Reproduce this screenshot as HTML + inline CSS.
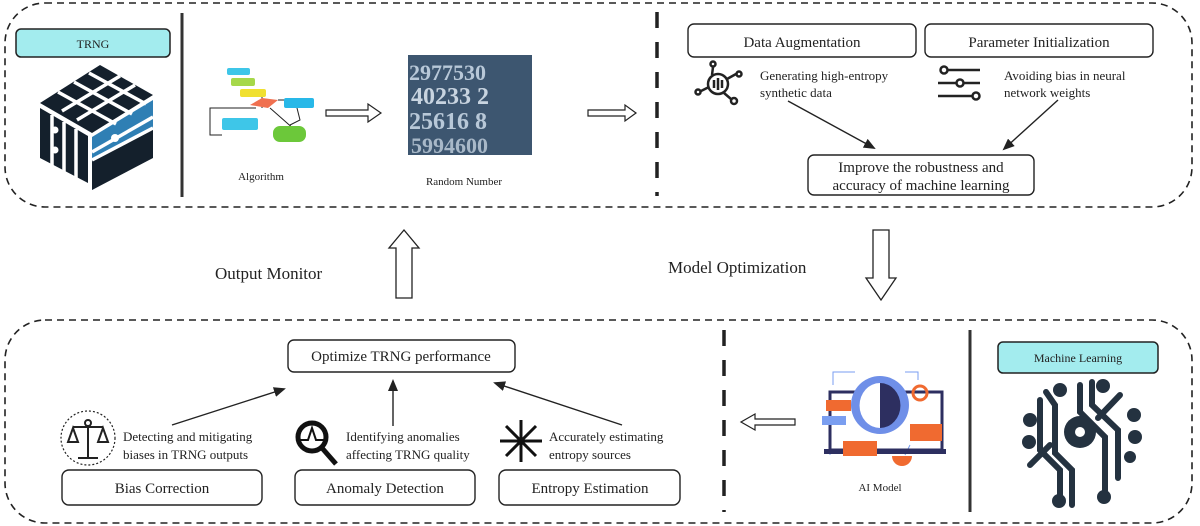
<!DOCTYPE html>
<html><head><meta charset="utf-8"><style>
html,body{margin:0;padding:0;background:#fff}
svg{display:block}
text{font-family:"Liberation Serif",serif;fill:#222}
</style></head><body>
<svg width="1200" height="526" viewBox="0 0 1200 526" xmlns="http://www.w3.org/2000/svg">
<defs>
<marker id="ah" markerWidth="12" markerHeight="10" refX="10" refY="5" orient="auto" markerUnits="userSpaceOnUse">
<path d="M0,0 L12,5 L0,10 Z" fill="#222"/></marker>
</defs>
<rect x="5" y="3" width="1187" height="204" rx="40" fill="none" stroke="#222" stroke-width="1.6" stroke-dasharray="7,5"/>
<rect x="5" y="320" width="1187" height="203" rx="40" fill="none" stroke="#222" stroke-width="1.6" stroke-dasharray="7,5"/>

<!-- TOP LEFT -->
<rect x="16" y="29" width="154" height="28" rx="5" fill="#a3ecee" stroke="#222" stroke-width="1.5"/>
<text x="93" y="48" font-size="12" text-anchor="middle">TRNG</text>
<g fill="#14202c">
<path d="M40,103 L100,65 L153,95 L92,133 Z"/>
<path d="M40,108 L88,136 L88,183 L40,158 Z"/>
<path d="M92,137 L153,100 L153,155 L92,190 Z" fill="#2f7fb4"/>
<path d="M92,160 L153,128 L153,158 L92,190 Z"/>
</g>
<g stroke="#fff" stroke-width="3.5">
<line x1="58" y1="92" x2="116" y2="124"/><line x1="74" y1="82" x2="132" y2="114"/><line x1="89" y1="73" x2="146" y2="104"/>
<line x1="62" y1="111" x2="120" y2="76"/><line x1="77" y1="120" x2="135" y2="85"/>
<line x1="52" y1="115" x2="52" y2="166"/><line x1="64" y1="122" x2="64" y2="172"/><line x1="76" y1="129" x2="76" y2="178"/>
<line x1="92" y1="152" x2="153" y2="117"/><line x1="92" y1="160" x2="153" y2="128"/>
</g>
<circle cx="115" cy="138" r="4" fill="#fff"/><circle cx="55" cy="130" r="3.5" fill="#fff"/><circle cx="55" cy="150" r="3.5" fill="#fff"/>
<line x1="182" y1="13" x2="182" y2="197" stroke="#333" stroke-width="3"/>
<!-- algorithm icon -->
<g>
<path d="M256,108 L210,108 L210,135 L222,135 M262,93 L262,108 M270,108 L295,130 M278,100 L295,100 L300,120 L290,125" fill="none" stroke="#222" stroke-width="1"/>
<rect x="227" y="68" width="23" height="7" rx="2" fill="#3ec6e8"/><rect x="231" y="78" width="24" height="8" rx="2" fill="#a6d84a"/>
<rect x="240" y="89" width="26" height="8" rx="2" fill="#f0e030"/>
<path d="M250,105 L262,98 L278,100 L268,108 Z" fill="#f07050"/>
<rect x="284" y="98" width="30" height="10" rx="2" fill="#28b8e8"/>
<rect x="222" y="118" width="36" height="12" rx="2" fill="#3ec6e8"/>
<rect x="273" y="126" width="33" height="16" rx="7" fill="#6cc83a"/>
</g>
<text x="261" y="180" font-size="11" text-anchor="middle">Algorithm</text>
<path d="M326,110 L368,110 L368,104 L381,113 L368,122 L368,116 L326,116 Z" fill="#fff" stroke="#222" stroke-width="1.2"/>
<!-- random number image -->
<rect x="408" y="55" width="124" height="100" fill="#3d5670"/>
<g font-family="Liberation Sans,sans-serif" font-weight="bold">
<text x="409" y="80" font-size="22" style="fill:#b8c8d8">2977530</text>
<text x="411" y="104" font-size="24" style="fill:#c8d4e0">40233 2</text>
<text x="409" y="129" font-size="24" style="fill:#b8c8d8">25616 8</text>
<text x="411" y="153" font-size="22" style="fill:#a8b8c8">5994600</text>
</g>
<text x="464" y="185" font-size="11" text-anchor="middle">Random Number</text>
<path d="M588,110 L625,110 L625,105 L636,113 L625,121 L625,116 L588,116 Z" fill="#fff" stroke="#222" stroke-width="1.2"/>
<line x1="657" y1="12" x2="657" y2="196" stroke="#222" stroke-width="3.5" stroke-dasharray="16,14"/>

<!-- TOP RIGHT -->
<rect x="688" y="24" width="228" height="33" rx="6" fill="#fff" stroke="#222" stroke-width="1.4"/>
<text x="802" y="47" font-size="15" text-anchor="middle">Data Augmentation</text>
<rect x="925" y="24" width="228" height="33" rx="6" fill="#fff" stroke="#222" stroke-width="1.4"/>
<text x="1039" y="47" font-size="15" text-anchor="middle">Parameter Initialization</text>
<g fill="none" stroke="#222" stroke-width="2.5">
<circle cx="718" cy="84" r="10"/><line x1="714" y1="80" x2="714" y2="88"/><line x1="718" y1="78" x2="718" y2="90"/><line x1="722" y1="80" x2="722" y2="88"/>
<line x1="712" y1="75" x2="713" y2="67"/><circle cx="713" cy="64" r="2.5"/>
<line x1="709" y1="87" x2="701" y2="91"/><circle cx="698" cy="92" r="2.5"/>
<line x1="727" y1="79" x2="736" y2="74"/><circle cx="739" cy="74" r="2.5"/>
<line x1="724" y1="93" x2="731" y2="99"/><circle cx="734" cy="101" r="3"/>
</g>
<text x="760" y="80" font-size="13">Generating high-entropy</text>
<text x="760" y="97" font-size="13">synthetic data</text>
<g fill="none" stroke="#222" stroke-width="2.5">
<line x1="940" y1="70" x2="980" y2="70"/><circle cx="944" cy="70" r="3.5" fill="#fff"/>
<line x1="938" y1="83" x2="980" y2="83"/><circle cx="960" cy="83" r="3.5" fill="#fff"/>
<line x1="938" y1="96" x2="980" y2="96"/><circle cx="976" cy="96" r="3.5" fill="#fff"/>
</g>
<text x="1004" y="80" font-size="13">Avoiding bias in neural</text>
<text x="1004" y="97" font-size="13">network weights</text>
<line x1="788" y1="101" x2="874" y2="148" stroke="#222" stroke-width="1.4" marker-end="url(#ah)"/>
<line x1="1058" y1="100" x2="1004" y2="149" stroke="#222" stroke-width="1.4" marker-end="url(#ah)"/>
<rect x="808" y="155" width="226" height="40" rx="6" fill="#fff" stroke="#222" stroke-width="1.4"/>
<text x="921" y="172" font-size="15" text-anchor="middle">Improve the robustness and</text>
<text x="921" y="190" font-size="15" text-anchor="middle">accuracy of machine learning</text>

<!-- MIDDLE -->
<path d="M396,298 L396,248 L389,248 L404,230 L419,248 L412,248 L412,298 Z" fill="#fff" stroke="#222" stroke-width="1.3"/>
<text x="215" y="279" font-size="17">Output Monitor</text>
<text x="668" y="273" font-size="17">Model Optimization</text>
<path d="M873,230 L873,278 L866,278 L881,300 L896,278 L889,278 L889,230 Z" fill="#fff" stroke="#222" stroke-width="1.3"/>

<!-- BOTTOM LEFT -->
<rect x="288" y="340" width="227" height="32" rx="6" fill="#fff" stroke="#222" stroke-width="1.4"/>
<text x="401" y="361" font-size="15" text-anchor="middle">Optimize TRNG performance</text>
<line x1="172" y1="425" x2="284" y2="389" stroke="#222" stroke-width="1.4" marker-end="url(#ah)"/>
<line x1="393" y1="426" x2="393" y2="381" stroke="#222" stroke-width="1.4" marker-end="url(#ah)"/>
<line x1="622" y1="425" x2="495" y2="383" stroke="#222" stroke-width="1.4" marker-end="url(#ah)"/>
<circle cx="88" cy="438" r="27" fill="none" stroke="#222" stroke-width="1.2" stroke-dasharray="2,2"/>
<g fill="none" stroke="#222" stroke-width="2">
<line x1="88" y1="425" x2="88" y2="458"/><line x1="78" y1="458" x2="98" y2="458"/>
<line x1="73" y1="427" x2="103" y2="427"/><circle cx="88" cy="423" r="3" fill="#fff"/>
<path d="M73,428 L68,442 L78,442 Z"/><path d="M103,428 L98,442 L108,442 Z"/>
</g>
<text x="123" y="441" font-size="13">Detecting and mitigating</text>
<text x="123" y="459" font-size="13">biases in TRNG outputs</text>
<g fill="none" stroke="#111" stroke-width="5">
<circle cx="312" cy="437" r="14"/><line x1="322" y1="448" x2="336" y2="464"/>
</g>
<path d="M300,440 L308,440 L312,428 L316,440 L324,440" fill="none" stroke="#111" stroke-width="2"/>
<text x="346" y="441" font-size="13">Identifying anomalies</text>
<text x="346" y="459" font-size="13">affecting TRNG quality</text>
<g stroke="#111" stroke-width="3">
<line x1="521" y1="420" x2="521" y2="462"/><line x1="500" y1="441" x2="542" y2="441"/>
<line x1="506" y1="426" x2="536" y2="456"/><line x1="536" y1="426" x2="506" y2="456"/>
</g>
<text x="549" y="441" font-size="13">Accurately estimating</text>
<text x="549" y="459" font-size="13">entropy sources</text>
<rect x="62" y="470" width="200" height="35" rx="7" fill="#fff" stroke="#222" stroke-width="1.4"/>
<text x="162" y="493" font-size="15" text-anchor="middle">Bias Correction</text>
<rect x="295" y="470" width="180" height="35" rx="7" fill="#fff" stroke="#222" stroke-width="1.4"/>
<text x="385" y="493" font-size="15" text-anchor="middle">Anomaly Detection</text>
<rect x="499" y="470" width="181" height="35" rx="7" fill="#fff" stroke="#222" stroke-width="1.4"/>
<text x="590" y="493" font-size="15" text-anchor="middle">Entropy Estimation</text>

<!-- BOTTOM RIGHT -->
<line x1="724" y1="330" x2="724" y2="512" stroke="#222" stroke-width="3.5" stroke-dasharray="16,14"/>
<path d="M795,419 L755,419 L755,414 L741,422 L755,430 L755,425 L795,425 Z" fill="#fff" stroke="#222" stroke-width="1.2"/>
<path d="M833,385 L833,372 L855,372 M905,372 L918,372 L918,380 M830,445 L830,455 M910,445 L905,455" fill="none" stroke="#7a9ef0" stroke-width="1"/>
<rect x="830" y="392" width="112" height="58" fill="none" stroke="#2d2f60" stroke-width="3"/>
<rect x="824" y="449" width="122" height="5" fill="#2d2f60"/>
<path d="M892,456 A10,10 0 0 0 912,456 Z" fill="#f06a30"/>
<circle cx="880" cy="405" r="29" fill="#6f8fe8"/>
<path d="M880,383 A20,22 0 0 0 880,428 Z" fill="#fff"/>
<path d="M880,383 A20,22 0 0 1 880,428 Z" fill="#2d2f60"/>
<rect x="826" y="400" width="25" height="11" fill="#f06a30"/>
<rect x="822" y="416" width="24" height="9" fill="#7a9ef0"/>
<rect x="910" y="424" width="32" height="17" fill="#f06a30"/>
<rect x="843" y="441" width="34" height="15" fill="#f06a30"/>
<circle cx="920" cy="393" r="7" fill="none" stroke="#f06a30" stroke-width="3"/>
<text x="880" y="491" font-size="11" text-anchor="middle">AI Model</text>
<line x1="970" y1="330" x2="970" y2="512" stroke="#333" stroke-width="3"/>
<rect x="998" y="342" width="160" height="31" rx="5" fill="#a3ecee" stroke="#222" stroke-width="1.5"/>
<text x="1078" y="362" font-size="12" text-anchor="middle">Machine Learning</text>
<g stroke="#243240" stroke-width="6" fill="none" stroke-linecap="round">
<path d="M1060,500 L1060,470 L1040,450 L1040,400"/>
<path d="M1072,505 L1072,470 L1055,453 L1055,405 L1046,392"/>
<path d="M1080,385 L1080,412 L1105,437 L1105,495"/>
<path d="M1092,382 L1092,405 L1118,430 L1118,478"/>
<path d="M1120,395 L1098,418"/><path d="M1030,465 L1050,445"/>
</g>
<g fill="#243240">
<circle cx="1080" cy="432" r="16"/>
<circle cx="1060" cy="390" r="7"/><circle cx="1103" cy="386" r="7"/>
<circle cx="1030" cy="420" r="7"/><circle cx="1029" cy="442" r="7"/>
<circle cx="1134" cy="415" r="7"/><circle cx="1135" cy="437" r="7"/><circle cx="1130" cy="457" r="6"/>
<circle cx="1059" cy="501" r="7"/><circle cx="1104" cy="497" r="7"/>
</g>
<circle cx="1080" cy="432" r="5" fill="#fff"/>
</svg>
</body></html>
